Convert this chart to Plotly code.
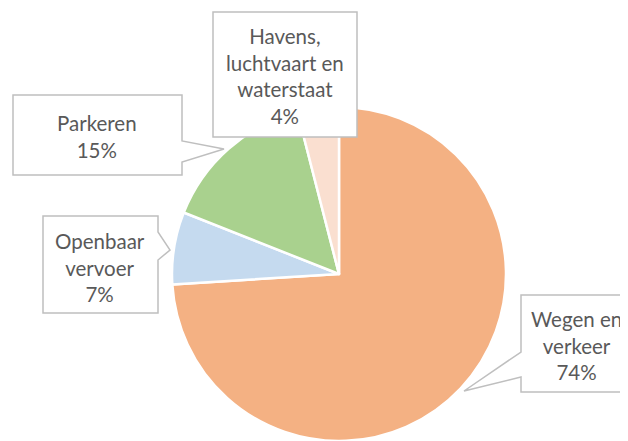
import plotly.graph_objects as go

# Data
categories = ["Wegen en verkeer", "Openbaar vervoer", "Parkeren", "Havens, luchtvaart en waterstaat"]
values = [74, 7, 15, 4]
label_texts = ["Wegen en<br>verkeer<br>74%", "Openbaar<br>vervoer<br>7%", "Parkeren<br>15%", "Havens,<br>luchtvaart en<br>waterstaat<br>4%"]
colors = ["#F4B183", "#C5DAEF", "#A9D18E", "#FADFD0"]

# page offset (body margin) compensation
OFF = 8
W, H = 628 - OFF, 441 - OFF

def px(x):
    return (x - OFF) / W

def py(y):
    return 1 - (y - OFF) / H

cx, cy, r = 339, 274, 167

fig = go.Figure(go.Pie(
    labels=categories,
    values=values,
    sort=False,
    direction="clockwise",
    rotation=0,
    textinfo="none",
    hoverinfo="label+percent",
    marker=dict(colors=colors, line=dict(color="white", width=2.5)),
    domain=dict(x=[px(cx - r), px(cx + r)], y=[max(0, py(cy + r)), py(cy - r)]),
    showlegend=False,
))

def path(points):
    return "M " + " L ".join(f"{px(x)},{py(y)}" for x, y in points) + " Z"

border = "#BFBFBF"
callouts = [
    # Wegen en verkeer: pointer on left side
    [(521, 295), (640, 295), (640, 392), (521, 392), (521, 377), (464, 391), (521, 352)],
    # Openbaar vervoer: pointer on right side
    [(43, 216), (158, 216), (158, 232), (170, 250), (158, 260), (158, 313), (43, 313)],
    # Parkeren: pointer on right side
    [(13, 95), (182, 95), (182, 141), (224, 149), (182, 162), (182, 175), (13, 175)],
    # Havens
    [(213, 12), (357, 12), (357, 137), (213, 137)],
]
shapes = []
for pts in callouts:
    shapes.append(dict(type="path", path=path(pts), xref="paper", yref="paper",
                       fillcolor="white", line=dict(color=border, width=1.5), layer="above"))

text_pos = [(576, 345), (100, 267), (97, 136), (285, 76)]
annotations = []
for (x, y), t in zip(text_pos, label_texts):
    annotations.append(dict(x=px(x), y=py(y), xref="paper", yref="paper", text=t,
                            showarrow=False, align="center", xanchor="center", yanchor="middle",
                            font=dict(family="Lato", size=20.5, color="#595959")))

fig.update_layout(
    width=W, height=H,
    margin=dict(l=0, r=0, t=0, b=0),
    paper_bgcolor="white",
    plot_bgcolor="white",
    shapes=shapes,
    annotations=annotations,
)

fig.write_html("out.html")
